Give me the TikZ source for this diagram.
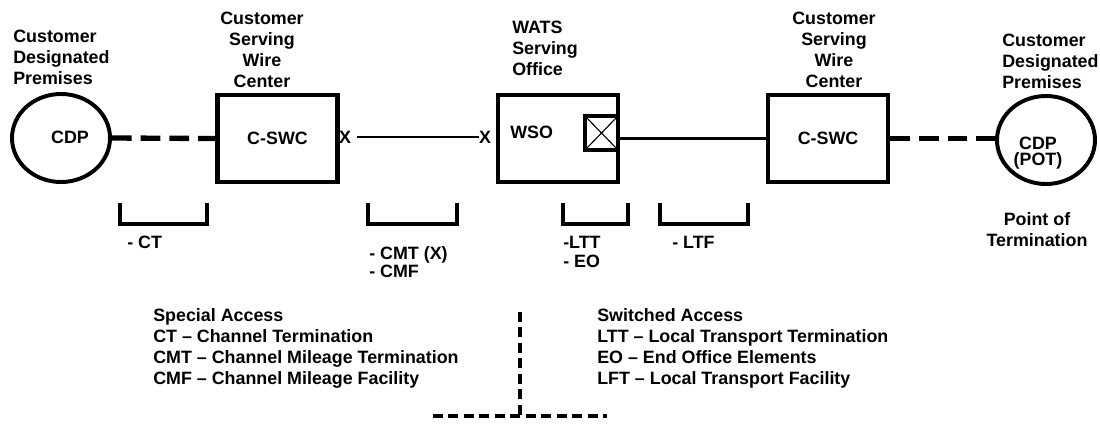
\documentclass[tikz,border=0pt]{standalone}
\usepackage{fontspec}
\setmainfont{Liberation Sans}
\usepackage{tikz}
\usetikzlibrary{positioning,shapes.geometric}
\definecolor{wireInk}{HTML}{000000}
\tikzset{
  every node/.style={
    font=\fontsize{12.7}{14.9}\selectfont\bfseries,
    text=wireInk
  },
  premise/.style={
    ellipse,
    draw=wireInk,
    line width=2.8pt,
    minimum width=2.45cm,
    minimum height=2.2cm,
    inner sep=0pt
  },
  office/.style={
    rectangle,
    draw=wireInk,
    line width=3pt,
    minimum width=3.0cm,
    minimum height=2.175cm,
    inner sep=0pt
  },
  switchbox/.style={
    rectangle,
    draw=wireInk,
    line width=3pt,
    minimum width=0.825cm,
    minimum height=0.85cm,
    inner sep=0pt,
    path picture={
      \draw[line width=0.8pt]
        (path picture bounding box.north west) -- (path picture bounding box.south east)
        (path picture bounding box.south west) -- (path picture bounding box.north east);
    }
  },
  heading/.style={align=center, inner sep=0pt},
  headleft/.style={align=left, inner sep=0pt, anchor=west},
  note/.style={align=left, inner sep=0pt, anchor=west},
  xlabel/.style={inner sep=0pt},
  trunk/.style={line width=1.9pt, draw=wireInk},
  dashlink/.style={line width=3.8pt, dash pattern=on 14pt off 6.4pt, draw=wireInk},
  bracket/.style={line width=3pt, draw=wireInk},
  divider/.style={line width=2.8pt, dash pattern=on 7pt off 4pt, draw=wireInk}
}

\begin{document}
\begin{tikzpicture}[x=0.025cm, y=-0.025cm]
  \useasboundingbox (0,0) rectangle (1100,423);

  % left premises
  \node[premise] (cdpL) at (61,138) {};
  \node[heading] (cdpLtext) at (70,137) {CDP};
  \node[headleft] (cdpLtitle) at (13,57.5) {Customer\\Designated\\Premises};

  % left serving wire center
  \node[office] (swcL) at (277.5,138.5) {C-SWC};
  \node[heading] (swcLtitle) at (262,49.5) {Customer\\Serving\\Wire\\Center};
  \node[xlabel] (xL) at (345,137) {X};

  % WATS serving office
  \node[xlabel] (xR) at (485,137) {X};
  \node[office] (wso) at (558,138.5) {};
  \node[note] (wsoText) at (510,132) {WSO};
  \node[switchbox] (sw) at (601.5,133) {};
  \node[headleft] (wsoTitle) at (512,48.5) {WATS\\Serving\\Office};

  % right serving wire center
  \node[office] (swcR) at (828,138.5) {C-SWC};
  \node[heading] (swcRtitle) at (834,49.5) {Customer\\Serving\\Wire\\Center};

  % right premises
  \node[premise] (cdpR) at (1046,140) {};
  \node[heading] (cdpRtext) at (1038,153) {CDP\\[-3pt](POT)};
  \node[headleft] (cdpRtitle) at (1002,61) {Customer\\Designated\\Premises};
  \node[heading] (potText) at (1037,230) {Point of\\Termination};

  % links
  \draw[dashlink] (cdpL.east) -- (swcL.west);
  \draw[trunk, shorten <=4.3pt] (xL.east) -- (xR.west);
  \draw[trunk] (wso.east) -- (swcR.west);
  \draw[dashlink] (swcR.east) -- (swcR.east -| cdpR.west);

  % rate element brackets
  \foreach \a/\b in {120/207, 368/457, 563/628, 660/748}
    \draw[bracket] (\a,203) -- (\a,224) -- (\b,224) -- (\b,203);
  \node[note] (ctText) at (127,242) {- CT};
  \node[note] (cmtText) at (369,262.5) {- CMT (X)\\[-2pt]- CMF};
  \node[note] (lttText) at (563,252) {-LTT\\[-1pt]- EO};
  \node[note] (ltfText) at (672,242) {- LTF};

  % legend
  \node[note] (specAcc) at (153,348.5) {Special Access\\CT -- Channel Termination\\CMT -- Channel Mileage Termination\\CMF -- Channel Mileage Facility};
  \node[note] (swAcc) at (597,348.5) {Switched Access\\LTT -- Local Transport Termination\\EO -- End Office Elements\\LFT -- Local Transport Facility};

  \coordinate (splitTop) at (520,312);
  \coordinate (splitL) at (433,416);
  \coordinate (splitR) at (607,416);
  \draw[divider] (splitTop) -- (splitTop |- splitL);
  \draw[divider] (splitL) -- (splitR);
\end{tikzpicture}
\end{document}
